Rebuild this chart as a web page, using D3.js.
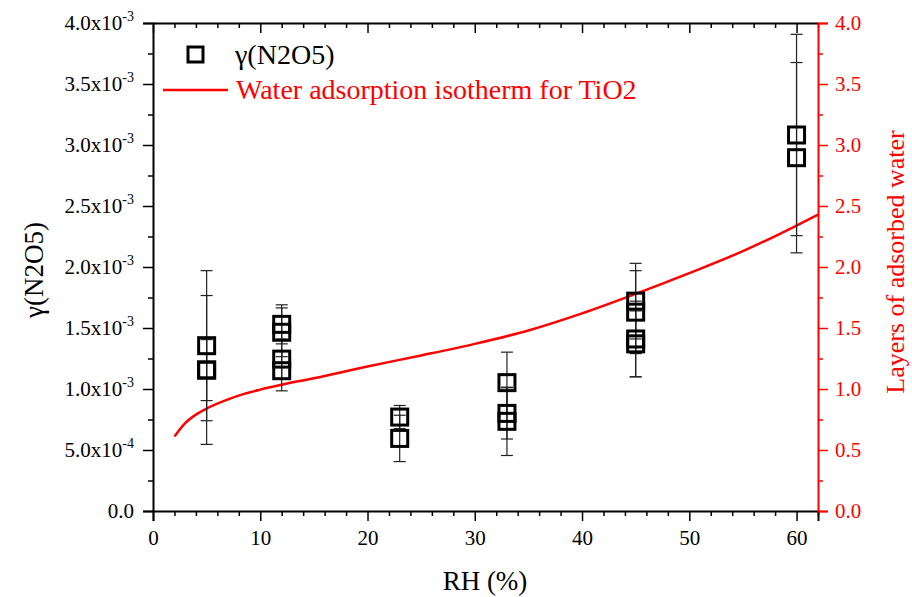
<!DOCTYPE html>
<html>
<head>
<meta charset="utf-8">
<script src="https://cdn.jsdelivr.net/npm/d3@7"></script>
<style>
  body { margin: 0; background: #fff; }
  svg text { font-family: "Liberation Serif", Tinos, "Times New Roman", "DejaVu Serif", serif; }
</style>
</head>
<body>
<div id="chart"></div>
<script>
// measured points: RH (%) and gamma(N2O5) with error bar half-widths
const rh = [5, 5, 5, 12, 12, 12, 12, 23, 23, 33, 33, 33, 45, 45, 45, 45, 60, 60];
const gamma = [1.355e-3, 1.156e-3, 1.155e-3, 1.53e-3, 1.465e-3, 1.245e-3, 1.15e-3,
  0.77e-3, 0.595e-3, 1.052e-3, 0.80e-3, 0.735e-3,
  1.72e-3, 1.63e-3, 1.41e-3, 1.37e-3, 3.082e-3, 2.896e-3];
const gammaErr = [0.615e-3, 0.61e-3, 0.25e-3, 0.16e-3, 0.2e-3, 0.165e-3, 0.165e-3,
  0.095e-3, 0.19e-3, 0.25e-3, 0.21e-3, 0.28e-3,
  0.31e-3, 0.34e-3, 0.31e-3, 0.27e-3, 0.825e-3, 0.78e-3];

// water adsorption isotherm for TiO2
const isoRH = [2, 3, 4, 5, 6, 7, 8.5, 10, 12, 15, 20, 25, 30, 35, 40, 45, 50, 55, 60, 62];
const isoLayers = [0.61, 0.72, 0.79, 0.84, 0.88, 0.915, 0.96, 0.995, 1.035, 1.088, 1.185, 1.275, 1.37, 1.48, 1.62, 1.78, 1.95, 2.13, 2.34, 2.43];

const xTicks = [0, 10, 20, 30, 40, 50, 60];
const yTicks = [0, 0.5e-3, 1.0e-3, 1.5e-3, 2.0e-3, 2.5e-3, 3.0e-3, 3.5e-3, 4.0e-3];
const y2Ticks = [0, 0.5, 1.0, 1.5, 2.0, 2.5, 3.0, 3.5, 4.0];

const width = 912, height = 597;
const plotL = 153, plotR = 818, plotT = 23, plotB = 511;
const red = "#ff0000";

const svg = d3.select("#chart").append("svg")
  .attr("width", width)
  .attr("height", height);

const x = d3.scaleLinear().domain([0, 62]).range([plotL, plotR]);
const y = d3.scaleLinear().domain([0, 4e-3]).range([plotB, plotT]);
const y2 = d3.scaleLinear().domain([0, 4]).range([plotB, plotT]);

const xMinor = d3.range(0, 63, 2).filter(v => v % 10 !== 0);
const yMinor = d3.range(0.25e-3, 4e-3, 0.5e-3);
const y2Minor = d3.range(0.25, 4, 0.5);

function fmtSci(g, v) {
  g.text(null);
  if (v === 0) { g.text("0.0"); return; }
  const e = Math.floor(Math.log10(v) + 1e-9);
  const m = (v / Math.pow(10, e)).toFixed(1);
  g.append("tspan").text(m + "x10");
  g.append("tspan").attr("dy", -9).attr("font-size", 14).text(e);
}

// bottom axis
svg.append("g").attr("transform", `translate(0,${plotB})`)
  .call(d3.axisBottom(x).tickValues(xTicks).tickSize(10).tickPadding(9).tickFormat(d3.format("d")));
svg.append("g").attr("transform", `translate(0,${plotB})`)
  .call(d3.axisBottom(x).tickValues(xMinor).tickSize(5).tickFormat(""))
  .select(".domain").remove();

// top axis, ticks inward
svg.append("g").attr("transform", `translate(0,${plotT})`)
  .call(d3.axisTop(x).tickValues(xTicks).tickSizeInner(-10).tickSizeOuter(0).tickFormat(""));
svg.append("g").attr("transform", `translate(0,${plotT})`)
  .call(d3.axisTop(x).tickValues(xMinor).tickSizeInner(-5).tickFormat(""))
  .select(".domain").remove();

// left axis
const gy = svg.append("g").attr("transform", `translate(${plotL},0)`)
  .call(d3.axisLeft(y).tickValues(yTicks).tickSize(10).tickPadding(9));
svg.append("g").attr("transform", `translate(${plotL},0)`)
  .call(d3.axisLeft(y).tickValues(yMinor).tickSize(5).tickFormat(""))
  .select(".domain").remove();

// right axis (red)
svg.append("g").attr("class", "right")
  .attr("transform", `translate(${plotR},0)`)
  .call(d3.axisRight(y2).tickValues(y2Ticks).tickSize(10).tickPadding(7).tickFormat(d3.format(".1f")));
svg.append("g").attr("class", "right")
  .attr("transform", `translate(${plotR},0)`)
  .call(d3.axisRight(y2).tickValues(y2Minor).tickSize(5).tickFormat(""))
  .select(".domain").remove();

svg.selectAll(".domain").attr("stroke-width", 2);
svg.selectAll(".tick line").attr("stroke-width", 1.5);
svg.selectAll(".tick text").attr("font-size", 21).attr("fill", "#000");
gy.selectAll(".tick text").each(function (d) { fmtSci(d3.select(this), d); });
svg.selectAll("g.right .domain, g.right .tick line").attr("stroke", red);
svg.selectAll("g.right .tick text").attr("fill", red);

// isotherm
svg.append("path")
  .datum(isoRH.map((r, i) => [r, isoLayers[i]]))
  .attr("fill", "none")
  .attr("stroke", red)
  .attr("stroke-width", 2.5)
  .attr("d", d3.line().x(d => x(d[0])).y(d => y2(d[1])).curve(d3.curveMonotoneX));

// error bars
const pts = rh.map((r, i) => ({ r, g: gamma[i], e: gammaErr[i] }));
const eb = svg.append("g").attr("stroke", "#222").attr("stroke-width", 1.2);
eb.selectAll("line.v").data(pts).enter().append("line").attr("class", "v")
  .attr("x1", d => x(d.r)).attr("x2", d => x(d.r))
  .attr("y1", d => y(d.g - d.e)).attr("y2", d => y(d.g + d.e));
eb.selectAll("line.c1").data(pts).enter().append("line").attr("class", "c1")
  .attr("x1", d => x(d.r) - 6).attr("x2", d => x(d.r) + 6)
  .attr("y1", d => y(d.g + d.e)).attr("y2", d => y(d.g + d.e));
eb.selectAll("line.c2").data(pts).enter().append("line").attr("class", "c2")
  .attr("x1", d => x(d.r) - 6).attr("x2", d => x(d.r) + 6)
  .attr("y1", d => y(d.g - d.e)).attr("y2", d => y(d.g - d.e));

// square markers
svg.append("g").selectAll("rect").data(pts).enter().append("rect")
  .attr("x", d => x(d.r) - 8).attr("y", d => y(d.g) - 8)
  .attr("width", 16).attr("height", 16)
  .attr("fill", "none").attr("stroke", "#000").attr("stroke-width", 3);

// legend
svg.append("rect").attr("x", 188).attr("y", 47).attr("width", 15).attr("height", 15)
  .attr("fill", "none").attr("stroke", "#000").attr("stroke-width", 3);
svg.append("text").attr("x", 235).attr("y", 64).attr("font-size", 28).text("γ(N2O5)");
svg.append("line").attr("x1", 163).attr("x2", 228).attr("y1", 90).attr("y2", 90)
  .attr("stroke", red).attr("stroke-width", 2.5);
svg.append("text").attr("x", 236).attr("y", 99).attr("font-size", 28).attr("fill", red)
  .text("Water adsorption isotherm for TiO2");

// axis titles
svg.append("text").attr("x", 485).attr("y", 590)
  .attr("text-anchor", "middle").attr("font-size", 27).text("RH (%)");
svg.append("text").attr("transform", `translate(43,270) rotate(-90)`)
  .attr("text-anchor", "middle").attr("font-size", 27).text("γ(N2O5)");
svg.append("text").attr("transform", `translate(904,262) rotate(-90)`)
  .attr("text-anchor", "middle").attr("font-size", 26).attr("fill", red)
  .text("Layers of adsorbed water");
</script>
</body>
</html>
